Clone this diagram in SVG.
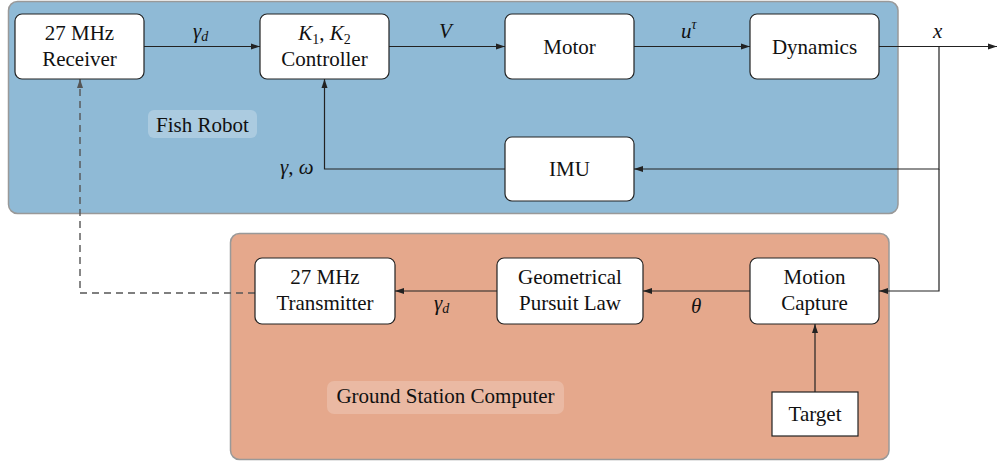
<svg xmlns="http://www.w3.org/2000/svg" width="998" height="461" viewBox="0 0 998 461" font-family="Liberation Serif, serif">
<defs>
<style>
.box{fill:#fff;stroke:#222;stroke-width:1.2}
.t{font-size:21px;fill:#111;text-anchor:middle}
.m{font-size:21px;font-style:italic;fill:#111}
.s{font-size:14px}
.c{fill:none;stroke:#222;stroke-width:1.2}
.d{fill:none;stroke:#555;stroke-width:1.4;stroke-dasharray:7,5}
</style>
<marker id="a" markerUnits="userSpaceOnUse" markerWidth="10" markerHeight="8" refX="9" refY="3.5" orient="auto"><path d="M0,0.5 L9,3.5 L0,6.5 z" fill="#222"/></marker>
<marker id="ag" markerUnits="userSpaceOnUse" markerWidth="10" markerHeight="8" refX="9" refY="3.5" orient="auto"><path d="M0,0.5 L9,3.5 L0,6.5 z" fill="#555"/></marker>
</defs>
<g id="fish-robot">
<rect x="8.5" y="1.5" width="889.5" height="212" rx="9" fill="#8fbad6" stroke="#999" stroke-width="1.5"/>
<rect x="148" y="110" width="109" height="28" rx="6" fill="#fff" fill-opacity="0.25"/>
<text class="t" x="202.5" y="132" font-family="Liberation Serif">Fish Robot</text>
</g>
<g id="ground-station">
<rect x="230.5" y="233.5" width="658.5" height="226" rx="9" fill="#e5a88c" stroke="#999" stroke-width="1.5"/>
<rect x="327" y="381" width="237" height="33" rx="7" fill="#fff" fill-opacity="0.2"/>
<text class="t" x="445.5" y="403" font-family="Liberation Serif">Ground Station Computer</text>
</g>
<g id="connectors">
<path class="c" d="M144,46.5 H260" marker-end="url(#a)"/>
<path class="c" d="M389,46.5 H505" marker-end="url(#a)"/>
<path class="c" d="M634,46.5 H750" marker-end="url(#a)"/>
<path class="c" d="M879,46.5 H997" marker-end="url(#a)"/>
<path class="c" d="M939,46.5 V169 H634" marker-end="url(#a)"/>
<path class="c" d="M505,169 H324.5 V79" marker-end="url(#a)"/>
<path class="c" d="M939,169 V291 H879" marker-end="url(#a)"/>
<path class="c" d="M750,291 H643" marker-end="url(#a)"/>
<path class="c" d="M497,291 H395" marker-end="url(#a)"/>
<path class="c" d="M815,392 V324" marker-end="url(#a)"/>
<path class="d" d="M255,293 H80 V79" marker-end="url(#ag)"/>
<text class="m" x="193" y="38">γ<tspan class="s" dy="3">d</tspan></text>
<text class="m" x="439" y="38">V</text>
<text class="m" x="681" y="38">u<tspan class="s" dy="-9">τ</tspan></text>
<text class="m" x="933" y="38">x</text>
<text class="m" x="280" y="174">γ<tspan font-style="normal">,</tspan> ω</text>
<text class="m" x="691" y="313">θ</text>
<text class="m" x="434" y="310">γ<tspan class="s" dy="3">d</tspan></text>
</g>
<g id="receiver"><rect class="box" x="15" y="14" width="129" height="65" rx="7"/><text class="t" x="79.5" y="40">27 MHz</text><text class="t" x="79.5" y="66">Receiver</text></g>
<g id="controller"><rect class="box" x="260" y="14" width="129" height="65" rx="7"/><text class="m" x="324.5" y="40" text-anchor="middle">K<tspan class="s" font-style="normal" dy="4">1</tspan><tspan font-style="normal" dy="-4">, </tspan>K<tspan class="s" font-style="normal" dy="4">2</tspan></text><text class="t" x="324.5" y="66">Controller</text></g>
<g id="motor"><rect class="box" x="505" y="14" width="129" height="65" rx="7"/><text class="t" x="569.5" y="54">Motor</text></g>
<g id="dynamics"><rect class="box" x="750" y="14" width="129" height="65" rx="7"/><text class="t" x="814.5" y="54">Dynamics</text></g>
<g id="imu"><rect class="box" x="505" y="137" width="129" height="64" rx="7"/><text class="t" x="569.5" y="176">IMU</text></g>
<g id="transmitter"><rect class="box" x="255" y="258" width="140" height="66" rx="7"/><text class="t" x="325" y="284">27 MHz</text><text class="t" x="325" y="310">Transmitter</text></g>
<g id="pursuit"><rect class="box" x="497" y="258" width="146" height="66" rx="7"/><text class="t" x="570" y="284">Geometrical</text><text class="t" x="570" y="310">Pursuit Law</text></g>
<g id="motion-capture"><rect class="box" x="750" y="258" width="129" height="66" rx="7"/><text class="t" x="814.5" y="284">Motion</text><text class="t" x="814.5" y="310">Capture</text></g>
<g id="target"><rect class="box" x="772" y="392" width="86" height="44"/><text class="t" x="815" y="421">Target</text></g>
</svg>
